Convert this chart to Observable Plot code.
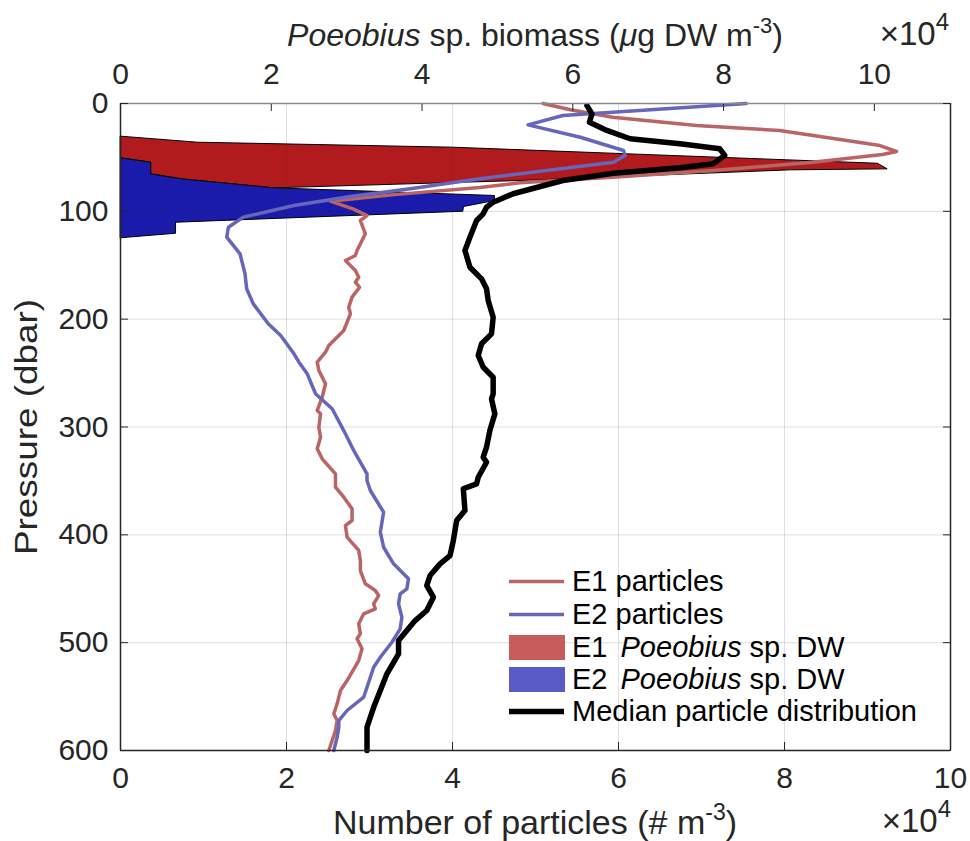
<!DOCTYPE html>
<html>
<head>
<meta charset="utf-8">
<script src="https://cdn.jsdelivr.net/npm/d3@7"></script>
<script src="https://cdn.jsdelivr.net/npm/@observablehq/plot@0.6"></script>
<style>
  html, body { margin: 0; padding: 0; background: #fff; }
  svg { display: block; }
</style>
</head>
<body>
<div id="chart"></div>
<script>
// ---------- tick values ----------
const xTicks = [0, 2, 4, 6, 8, 10];          // Number of particles (×10^4 # m^-3)
const topTicks = [0, 2, 4, 6, 8, 10];        // Poeobius biomass (×10^4 µg DW m^-3)
const yTicks = [0, 100, 200, 300, 400, 500, 600]; // Pressure (dbar)
const topMax = 11.01;                        // biomass axis upper limit (×10^4)

// ---------- Poeobius sp. DW outlines : [biomass ×10^4, pressure] ----------
const e1Biomass = [[0, 30.3], [1.02, 35.9], [4.40, 40.5], [10.04, 55.4], [10.17, 60.6], [8.89, 61.5],
  [5.31, 71.4], [2.03, 78.2], [0.80, 69.8], [0.40, 65.2], [0.40, 54.4], [0, 50.4]];
const e2Biomass = [[0, 50.4], [0.40, 54.4], [0.40, 65.2], [0.80, 69.8], [2.03, 78.2], [4.96, 85.3],
  [4.96, 90.0], [4.55, 95.5], [4.54, 99.9], [0.73, 110.1], [0.73, 120.3], [0, 124.5]];

// ---------- particle profiles : [pressure, particles ×10^4] ----------
const e1Particles = [[0, 5.09], [5.8, 5.42], [12.7, 5.93], [20.4, 6.94], [25.0, 7.94], [34.3, 8.75],
  [39.0, 9.15], [44.5, 9.35], [47.3, 9.18], [54.4, 8.34], [62.1, 7.14], [68.3, 5.93], [73.5, 4.81],
  [77.9, 4.33], [84.5, 3.30], [90.6, 2.53], [97.7, 2.80], [103.9, 2.97], [108.5, 2.89], [120.8, 2.95],
  [136.3, 2.85], [141.0, 2.83], [145.6, 2.71], [154.9, 2.83], [161.1, 2.87], [165.7, 2.83],
  [170.4, 2.88], [179.6, 2.79], [188.9, 2.75], [195.0, 2.77], [210.5, 2.69], [215.2, 2.63],
  [224.4, 2.51], [230.6, 2.47], [239.9, 2.37], [247.6, 2.39], [259.9, 2.47], [272.4, 2.43],
  [284.7, 2.37], [287.8, 2.41], [300.2, 2.39], [309.5, 2.41], [320.2, 2.37], [329.5, 2.43],
  [343.4, 2.59], [355.8, 2.59], [365.1, 2.69], [375.9, 2.79], [386.7, 2.79], [391.4, 2.71],
  [402.2, 2.73], [414.5, 2.87], [423.8, 2.89], [433.1, 2.89], [445.4, 2.95], [451.6, 3.07],
  [456.3, 3.11], [464.0, 3.05], [468.6, 3.07], [473.2, 2.93], [482.5, 2.87], [491.8, 2.89],
  [496.4, 2.85], [505.7, 2.91], [516.6, 2.87], [535.1, 2.73], [544.4, 2.65], [556.7, 2.61],
  [566.0, 2.57], [572.2, 2.61], [581.5, 2.59], [600, 2.51]];
const e2Particles = [[0, 7.54], [11.1, 5.33], [19.8, 4.91], [31.3, 5.54], [43.6, 6.06], [48.2, 6.08],
  [54.4, 5.94], [69.8, 4.33], [79.1, 3.49], [86.2, 2.77], [94.6, 2.09], [105.4, 1.48], [114.7, 1.30],
  [124.0, 1.28], [139.4, 1.44], [157.9, 1.50], [171.8, 1.52], [185.8, 1.60], [204.3, 1.78],
  [215.2, 1.93], [232.1, 2.09], [239.9, 2.15], [250.7, 2.25], [269.2, 2.35], [283.1, 2.55],
  [303.3, 2.69], [321.8, 2.81], [343.4, 2.97], [349.6, 2.97], [358.9, 3.01], [379.0, 3.17],
  [397.6, 3.13], [411.5, 3.17], [426.9, 3.29], [440.8, 3.47], [450.1, 3.45], [454.7, 3.37],
  [464.0, 3.35], [476.4, 3.39], [487.2, 3.37], [499.6, 3.27], [513.5, 3.13], [522.8, 3.05],
  [541.3, 2.97], [550.6, 2.93], [562.9, 2.73], [572.2, 2.63], [578.4, 2.63], [587.7, 2.61], [600, 2.57]];
const medianParticles = [[1.9, 5.62], [9.6, 5.68], [17.3, 5.65], [25.0, 5.86], [32.7, 6.14], [37.4, 6.74],
  [42.0, 7.22], [48.2, 7.28], [55.9, 7.14], [59.6, 6.74], [64.6, 5.94], [71.4, 5.33], [83.7, 4.73],
  [91.5, 4.49], [96.2, 4.41], [102.3, 4.37], [108.5, 4.29], [124.0, 4.21], [136.3, 4.15], [151.8, 4.21],
  [162.6, 4.35], [171.8, 4.41], [182.7, 4.43], [198.2, 4.49], [213.6, 4.47], [222.8, 4.35],
  [233.7, 4.31], [244.6, 4.37], [253.8, 4.49], [269.2, 4.49], [273.9, 4.47], [287.8, 4.51],
  [303.3, 4.45], [318.7, 4.41], [328.0, 4.37], [332.7, 4.41], [346.6, 4.31], [352.7, 4.29],
  [357.3, 4.13], [377.4, 4.15], [386.7, 4.05], [405.3, 4.01], [419.2, 3.97], [426.9, 3.85],
  [437.7, 3.73], [447.0, 3.69], [457.8, 3.77], [470.2, 3.69], [479.5, 3.55], [488.7, 3.45],
  [498.0, 3.35], [510.3, 3.35], [528.9, 3.21], [544.4, 3.13], [559.9, 3.05], [578.4, 2.97], [600, 2.97]];

// ---------- legend labels ----------
const legendLabels = [
  [{ t: "E1 particles" }],
  [{ t: "E2 particles" }],
  [{ t: "E1 " }, { t: "Poeobius", i: true }, { t: " sp. DW" }],
  [{ t: "E2 " }, { t: "Poeobius", i: true }, { t: " sp. DW" }],
  [{ t: "Median particle distribution" }]
];

// ---------- colours ----------
const e1Fill = "#b21b1e", e2Fill = "#1b1bab";
const e1Line = "#ba6464", e2Line = "#6666bb";
const e1Legend = "#c85b5b", e2Legend = "#5b5bc8";
const ink = "#262626";
const font = "'Liberation Sans', Arial, Helvetica, sans-serif";

const k = 10 / topMax; // biomass -> particle axis units

const chart = Plot.plot({
  width: 970,
  height: 841,
  marginLeft: 120,
  marginRight: 20,
  marginTop: 103,
  marginBottom: 91,
  style: { fontFamily: font, fontSize: "30px", color: ink, background: "#fff" },
  x: { domain: [0, 10] },
  y: { domain: [0, 600], reverse: true },
  marks: [
    Plot.line(e1Biomass, { x: d => d[0] * k, y: d => d[1], curve: "linear-closed", fill: e1Fill, stroke: "#000", strokeWidth: 1 }),
    Plot.line(e2Biomass, { x: d => d[0] * k, y: d => d[1], curve: "linear-closed", fill: e2Fill, stroke: "#000", strokeWidth: 1 }),
    Plot.gridX({ ticks: xTicks.slice(1, -1), stroke: ink, strokeOpacity: 0.15, strokeWidth: 1 }),
    Plot.gridY({ ticks: yTicks.slice(1, -1), stroke: ink, strokeOpacity: 0.15, strokeWidth: 1 }),
    Plot.line(e1Particles, { x: d => d[1], y: d => d[0], stroke: e1Line, strokeWidth: 3.5, strokeLinejoin: "round", strokeLinecap: "round" }),
    Plot.line(e2Particles, { x: d => d[1], y: d => d[0], stroke: e2Line, strokeWidth: 3.5, strokeLinejoin: "round", strokeLinecap: "round" }),
    Plot.line(medianParticles, { x: d => d[1], y: d => d[0], stroke: "#000", strokeWidth: 5.5, strokeLinejoin: "round" }),
    Plot.ruleY([0], { stroke: "#8a8a8a", strokeWidth: 1.5 }),
    Plot.ruleY([600], { stroke: ink, strokeWidth: 1.5 }),
    Plot.ruleX([0], { stroke: ink, strokeWidth: 1.5 }),
    Plot.ruleX([10], { stroke: ink, strokeWidth: 1.5 }),
    Plot.axisX({ anchor: "bottom", ticks: xTicks, tickSize: -8, tickPadding: 24, fontSize: 30, label: null, color: ink, tickFormat: d3.format("d") }),
    Plot.axisX({ anchor: "top", ticks: topTicks.map(t => t * k), tickSize: -7, tickPadding: 27, fontSize: 30, label: null, color: ink,
      tickFormat: d => String(Math.round(d / k)) }),
    Plot.axisY({ anchor: "left", ticks: yTicks, tickSize: -8, tickPadding: 20, fontSize: 30, label: null, color: ink, tickFormat: d3.format("d") }),
    Plot.axisY({ anchor: "right", ticks: yTicks, tickSize: -8, tickFormat: () => "", label: null, color: ink })
  ]
});

document.getElementById("chart").appendChild(chart);
const svg = d3.select(chart);

// ---------- axis titles ----------
function richText(sel, parts) {
  parts.forEach(p => {
    const t = sel.append("tspan").text(p.t);
    if (p.i) t.attr("font-style", "italic");
    if (p.sup) t.attr("font-size", p.sup).attr("dy", p.dy);
    if (p.back) t.attr("dy", p.back);
  });
}

const topTitle = svg.append("text").attr("x", 535).attr("y", 46).attr("text-anchor", "middle")
  .attr("font-family", font).attr("font-size", 32).attr("fill", ink);
richText(topTitle, [
  { t: "Poeobius", i: true }, { t: " sp. biomass (" }, { t: "μ", i: true }, { t: "g DW m" },
  { t: "-3", sup: 22, dy: -13 }, { t: ")", back: 13 }
]);

const bottomTitle = svg.append("text").attr("x", 535).attr("y", 834).attr("text-anchor", "middle")
  .attr("font-family", font).attr("font-size", 34).attr("fill", ink);
richText(bottomTitle, [
  { t: "Number of particles (# m" }, { t: "-3", sup: 23, dy: -14 }, { t: ")", back: 14 }
]);

svg.append("text").attr("transform", "translate(37,427) rotate(-90)").attr("text-anchor", "middle")
  .attr("font-family", font).attr("font-size", 31).attr("fill", ink)
  .attr("textLength", 256).attr("lengthAdjust", "spacingAndGlyphs")
  .text("Pressure (dbar)");

const expTop = svg.append("text").attr("x", 949).attr("y", 45).attr("text-anchor", "end")
  .attr("font-family", font).attr("font-size", 33).attr("fill", ink);
richText(expTop, [{ t: "×10" }, { t: "4", sup: 24, dy: -15 }]);

const expBottom = svg.append("text").attr("x", 951).attr("y", 832).attr("text-anchor", "end")
  .attr("font-family", font).attr("font-size", 33).attr("fill", ink);
richText(expBottom, [{ t: "×10" }, { t: "4", sup: 24, dy: -15 }]);

// ---------- legend ----------
const legendKeys = [
  { kind: "line", color: e1Line, w: 3.5 },
  { kind: "line", color: e2Line, w: 3.5 },
  { kind: "patch", color: e1Legend },
  { kind: "patch", color: e2Legend },
  { kind: "line", color: "#000", w: 5.5 }
];
const rowY = [581.5, 614.5, 647.5, 679.5, 711.5];
const lg = svg.append("g");
legendKeys.forEach((e, i) => {
  const y = rowY[i];
  if (e.kind === "line") {
    lg.append("line").attr("x1", 509).attr("x2", 564).attr("y1", y).attr("y2", y)
      .attr("stroke", e.color).attr("stroke-width", e.w);
  } else {
    lg.append("rect").attr("x", 509).attr("y", y - 12.5).attr("width", 56).attr("height", 25)
      .attr("fill", e.color);
  }
  const t = lg.append("text").attr("x", 572).attr("y", y + 9.5).attr("text-anchor", "start")
    .attr("font-family", font).attr("font-size", 29).attr("fill", "#000");
  legendLabels[i].forEach(p => {
    const s = t.append("tspan").text(p.t);
    if (p.i) s.attr("font-style", "italic").attr("dx", 5);
  });
});
</script>
</body>
</html>
